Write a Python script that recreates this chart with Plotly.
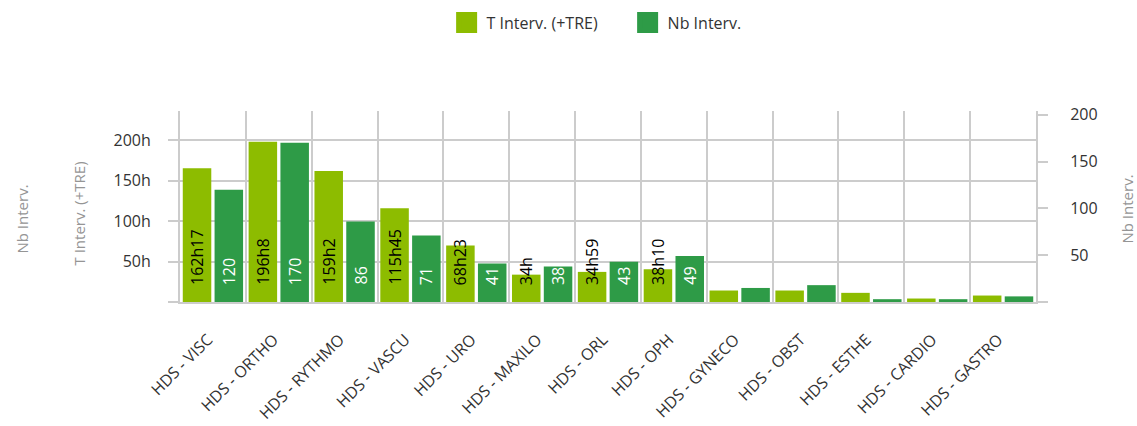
import plotly.graph_objects as go

categories = ["HDS - VISC", "HDS - ORTHO", "HDS - RYTHMO", "HDS - VASCU", "HDS - URO",
              "HDS - MAXILO", "HDS - ORL", "HDS - OPH", "HDS - GYNECO", "HDS - OBST",
              "HDS - ESTHE", "HDS - CARDIO", "HDS - GASTRO"]
# T Interv. (+TRE), hours
t_interv = [165.2, 197.9, 161.8, 115.9, 69.9, 33.8, 37.2, 40.4, 14.2, 14.2, 11.3, 4.3, 8.0]
t_labels = ["162h17", "196h8", "159h2", "115h45", "68h23", "34h", "34h59", "38h10",
            "", "", "", "", ""]
# Nb Interv.
nb_interv = [120, 170, 86, 71, 41, 38, 43, 49, 15, 18, 3, 3, 6]
nb_labels = ["120", "170", "86", "71", "41", "38", "43", "49", "", "", "", "", ""]

left_ticks = [0, 50, 100, 150, 200]
left_ticktext = ["", "50h", "100h", "150h", "200h"]
right_ticks = [0, 50, 100, 150, 200]
right_ticktext = ["", "50", "100", "150", "200"]

LIGHT = "#8DBC00"
DARK = "#2E9B47"
GRID = "#CCCCCC"
FONT = "Open Sans, sans-serif"
TXT = "#333333"
TITLE_C = "#959595"

BAR_W = 0.433
SLOT = 0.483

fig = go.Figure()
fig.add_trace(go.Bar(x=categories, y=t_interv, name="T Interv. (+TRE)", yaxis="y",
                     marker=dict(color=LIGHT, line=dict(width=0)),
                     width=BAR_W, offset=-SLOT + (SLOT - BAR_W) / 2, showlegend=False))
fig.add_trace(go.Bar(x=categories, y=nb_interv, name="Nb Interv.", yaxis="y2",
                     marker=dict(color=DARK, line=dict(width=0)),
                     width=BAR_W, offset=(SLOT - BAR_W) / 2, showlegend=False))
# legend entries
for nm, col in [("T Interv. (+TRE)", LIGHT), ("Nb Interv.", DARK)]:
    fig.add_trace(go.Scatter(x=[None], y=[None], mode="markers", name=nm,
                             marker=dict(symbol="square", size=16, color=col,
                                         line=dict(width=5, color=col))))

annotations = []
shift_px = 15.9
for cat, lab in zip(categories, t_labels):
    if lab:
        annotations.append(dict(x=cat, y=0, xref="x", yref="y", text=lab, showarrow=False,
                                textangle=-90, xanchor="center", yanchor="bottom",
                                xshift=-shift_px, yshift=15,
                                font=dict(family=FONT, size=16, color="#000000")))
for cat, lab in zip(categories, nb_labels):
    if lab:
        annotations.append(dict(x=cat, y=0, xref="x", yref="y", text=lab, showarrow=False,
                                textangle=-90, xanchor="center", yanchor="bottom",
                                xshift=shift_px, yshift=15,
                                font=dict(family=FONT, size=16, color="#FFFFFF")))
# axis titles
annotations += [
    dict(text="T Interv. (+TRE)", xref="paper", yref="paper", x=0, y=0.5, xanchor="center",
         yanchor="middle", xshift=-102, yshift=-7, textangle=-90, showarrow=False,
         font=dict(family=FONT, size=15, color=TITLE_C)),
    dict(text="Nb Interv.", xref="paper", yref="paper", x=0, y=0.5, xanchor="center",
         yanchor="middle", xshift=-159, yshift=-13, textangle=-90, showarrow=False,
         font=dict(family=FONT, size=15, color=TITLE_C)),
    dict(text="Nb Interv.", xref="paper", yref="paper", x=1, y=0.5, xanchor="center",
         yanchor="middle", xshift=90, yshift=-3, textangle=-90, showarrow=False,
         font=dict(family=FONT, size=15, color=TITLE_C)),
]

fig.update_layout(
    width=1137, height=426, autosize=False,
    margin=dict(l=180, r=101, t=111, b=124, autoexpand=False),
    paper_bgcolor="white", plot_bgcolor="white",
    font=dict(family=FONT, size=16, color=TXT),
    barmode="overlay",
    legend=dict(orientation="h", xref="container", yref="container", x=0.552, y=0.947,
                xanchor="center", yanchor="middle", entrywidth=136, entrywidthmode="pixels",
                font=dict(family=FONT, size=16, color=TXT)),
    xaxis=dict(type="category", categoryorder="array", categoryarray=categories,
               range=[-0.5, len(categories) - 0.5], tickson="boundaries",
               showgrid=True, gridcolor=GRID, gridwidth=2, ticks="",
               showline=True, linecolor=GRID, linewidth=2, automargin=False,
               tickangle=-45, tickfont=dict(family=FONT, size=16, color=TXT),
               ticklabelstandoff=20, ticklabelshift=-5),
    yaxis=dict(range=[0, 236], tickvals=left_ticks, ticktext=left_ticktext,
               showgrid=True, gridcolor=GRID, gridwidth=2, zeroline=False,
               ticks="outside", ticklen=10, tickwidth=2, tickcolor=GRID,
               showline=True, linecolor=GRID, linewidth=2, automargin=False,
               tickfont=dict(family=FONT, size=16, color=TXT), ticklabelstandoff=14),
    yaxis2=dict(range=[0, 204], overlaying="y", side="right", tickvals=right_ticks,
                ticktext=right_ticktext, showgrid=False, zeroline=False,
                ticks="outside", ticklen=10, tickwidth=2, tickcolor=GRID,
                showline=True, linecolor=GRID, linewidth=2, automargin=False,
                tickfont=dict(family=FONT, size=16, color=TXT), ticklabelstandoff=19),
    annotations=annotations,
)

fig.write_html("out.html", config={"displayModeBar": False},
               post_script="document.body.style.margin='0';document.body.style.padding='0';")
